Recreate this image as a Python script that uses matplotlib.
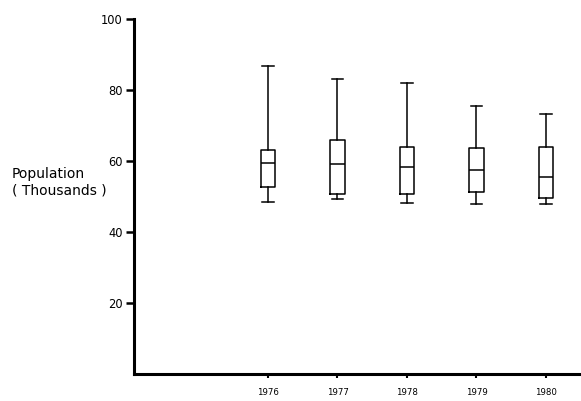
import matplotlib
matplotlib.use("Agg")
import matplotlib.pyplot as plt

years = ["1976", "1977", "1978", "1979", "1980"]
whislo = [48.4, 49.4, 48.1, 47.8, 47.9]
q1 = [52.8, 50.7, 50.7, 51.3, 49.7]
med = [59.4, 59.1, 58.4, 57.5, 55.6]
q3 = [63.1, 65.9, 63.9, 63.8, 64.0]
whishi = [86.8, 83.0, 82.1, 75.6, 73.2]
yticks = [20, 40, 60, 80, 100]

fig = plt.figure(figsize=(5.81, 4.01), dpi=100)
ax = fig.add_axes([134/581, 27/401, 447/581, 355/401])

stats = []
for i in range(len(years)):
    stats.append(dict(label=years[i], whislo=whislo[i], q1=q1[i], med=med[i],
                      q3=q3[i], whishi=whishi[i], fliers=[]))
positions = list(range(1, len(years) + 1))
lw = 1.1
ax.bxp(stats, positions=positions, widths=0.21, capwidths=0.16, showfliers=False,
       boxprops=dict(color="black", linewidth=lw),
       whiskerprops=dict(color="black", linewidth=lw),
       capprops=dict(color="black", linewidth=lw),
       medianprops=dict(color="black", linewidth=lw))

ax.set_xlim(-0.928, 5.504)
ax.set_ylim(0, 100)
ax.set_yticks(yticks)
ax.set_yticklabels([str(v) for v in yticks], fontsize=8.3)
ax.set_xticks(positions)
ax.set_xticklabels(years, fontsize=6.2)
for s in ["top", "right"]:
    ax.spines[s].set_visible(False)
for s in ["left", "bottom"]:
    ax.spines[s].set_linewidth(2.2)
ax.tick_params(axis="y", direction="out", length=6, width=1.8, pad=2)
ax.tick_params(axis="x", direction="out", length=3, width=1.5, pad=7)

fig.text(12/581, 1 - 178/401, "Population", fontsize=10, ha="left", va="baseline")
fig.text(12/581, 1 - 195/401, "( Thousands )", fontsize=10, ha="left", va="baseline")

fig.savefig("out.png", dpi=100)
